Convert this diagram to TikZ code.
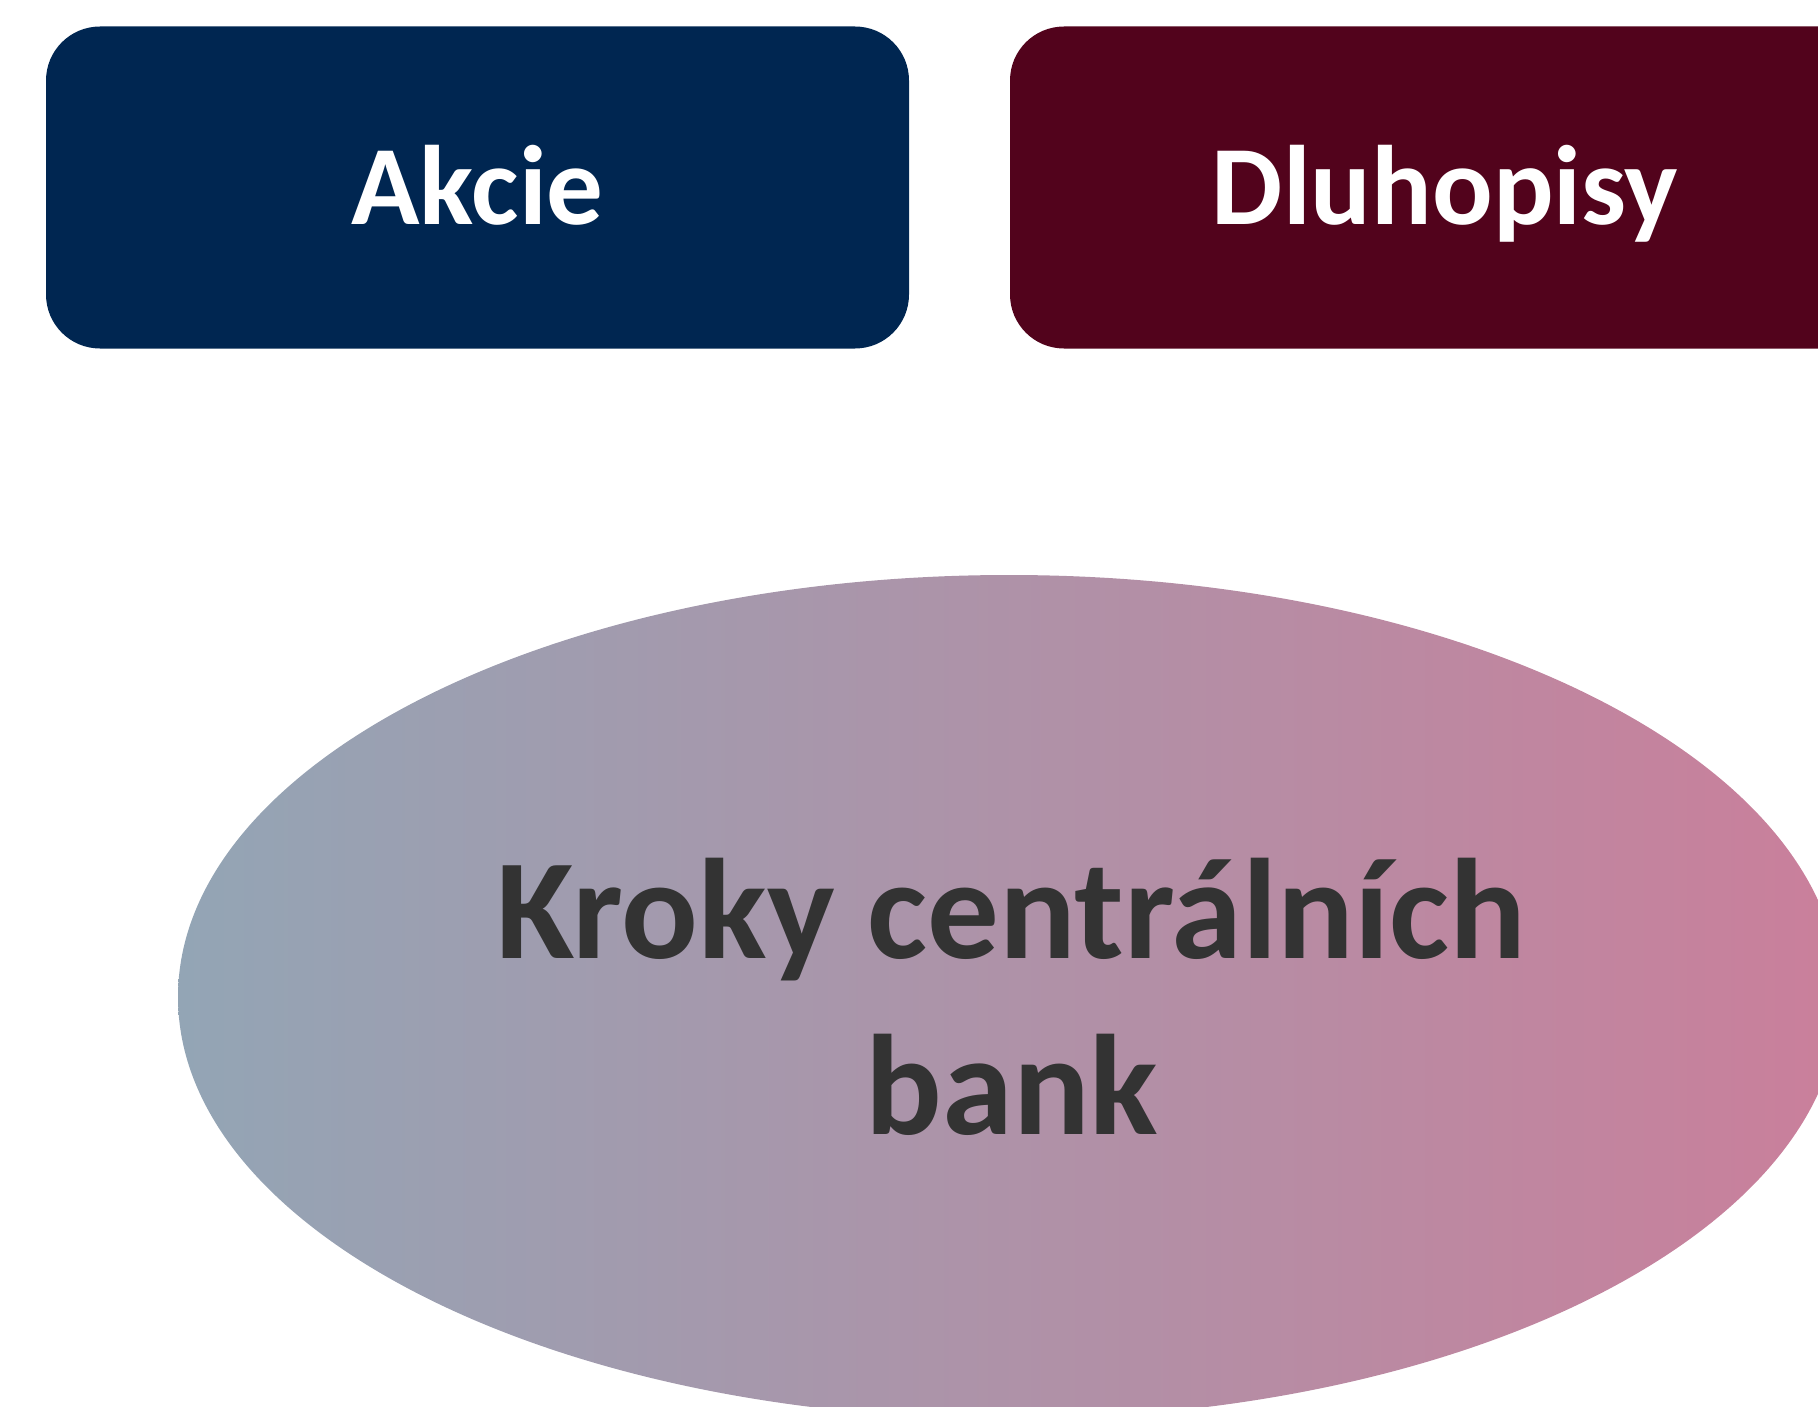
\documentclass[tikz,border=0pt]{standalone}
\usepackage{fontspec}
\setmainfont{Carlito}
\usetikzlibrary{shapes.geometric}
\definecolor{navy}{HTML}{002651}
\definecolor{wine}{HTML}{52031C}
\definecolor{gradL}{HTML}{93A5B5}
\definecolor{gradR}{HTML}{CA7F9B}
\definecolor{txtdark}{HTML}{333333}
\tikzset{
  topbox/.style={rounded corners=54pt, minimum height=322pt, inner sep=0pt, draw=none},
  boxtext/.style={text=white, font=\fontsize{113}{136}\selectfont\bfseries, anchor=base, inner sep=0pt},
  elltext/.style={text=txtdark, font=\fontsize{143}{176}\selectfont\bfseries, anchor=base, inner sep=0pt}
}
\begin{document}
\begin{tikzpicture}[x=1pt,y=-1pt]
\useasboundingbox (0,0) rectangle (1818,1407);
\clip (0,0) rectangle (1818,1407);
\node[topbox, fill=navy, minimum width=863pt] (akcie) at (477.5,187.5) {};
\node[topbox, fill=wine, minimum width=870pt] (dluh) at (1445,187.5) {};
\node[boxtext] (akcieT) at (477.5,225) {Akcie};
\node[boxtext] (dluhT) at (1445,225) {Dluhopisy};
\node[ellipse, minimum width=1662pt, minimum height=844pt, inner sep=0pt, draw=none, left color=gradL, right color=gradR] (ell) at (1009,997) {};
\node[elltext] (l1) at (1011,958) {Kroky centrálních};
\node[elltext] (l2) at (1012,1134) {bank};
\end{tikzpicture}
\end{document}
